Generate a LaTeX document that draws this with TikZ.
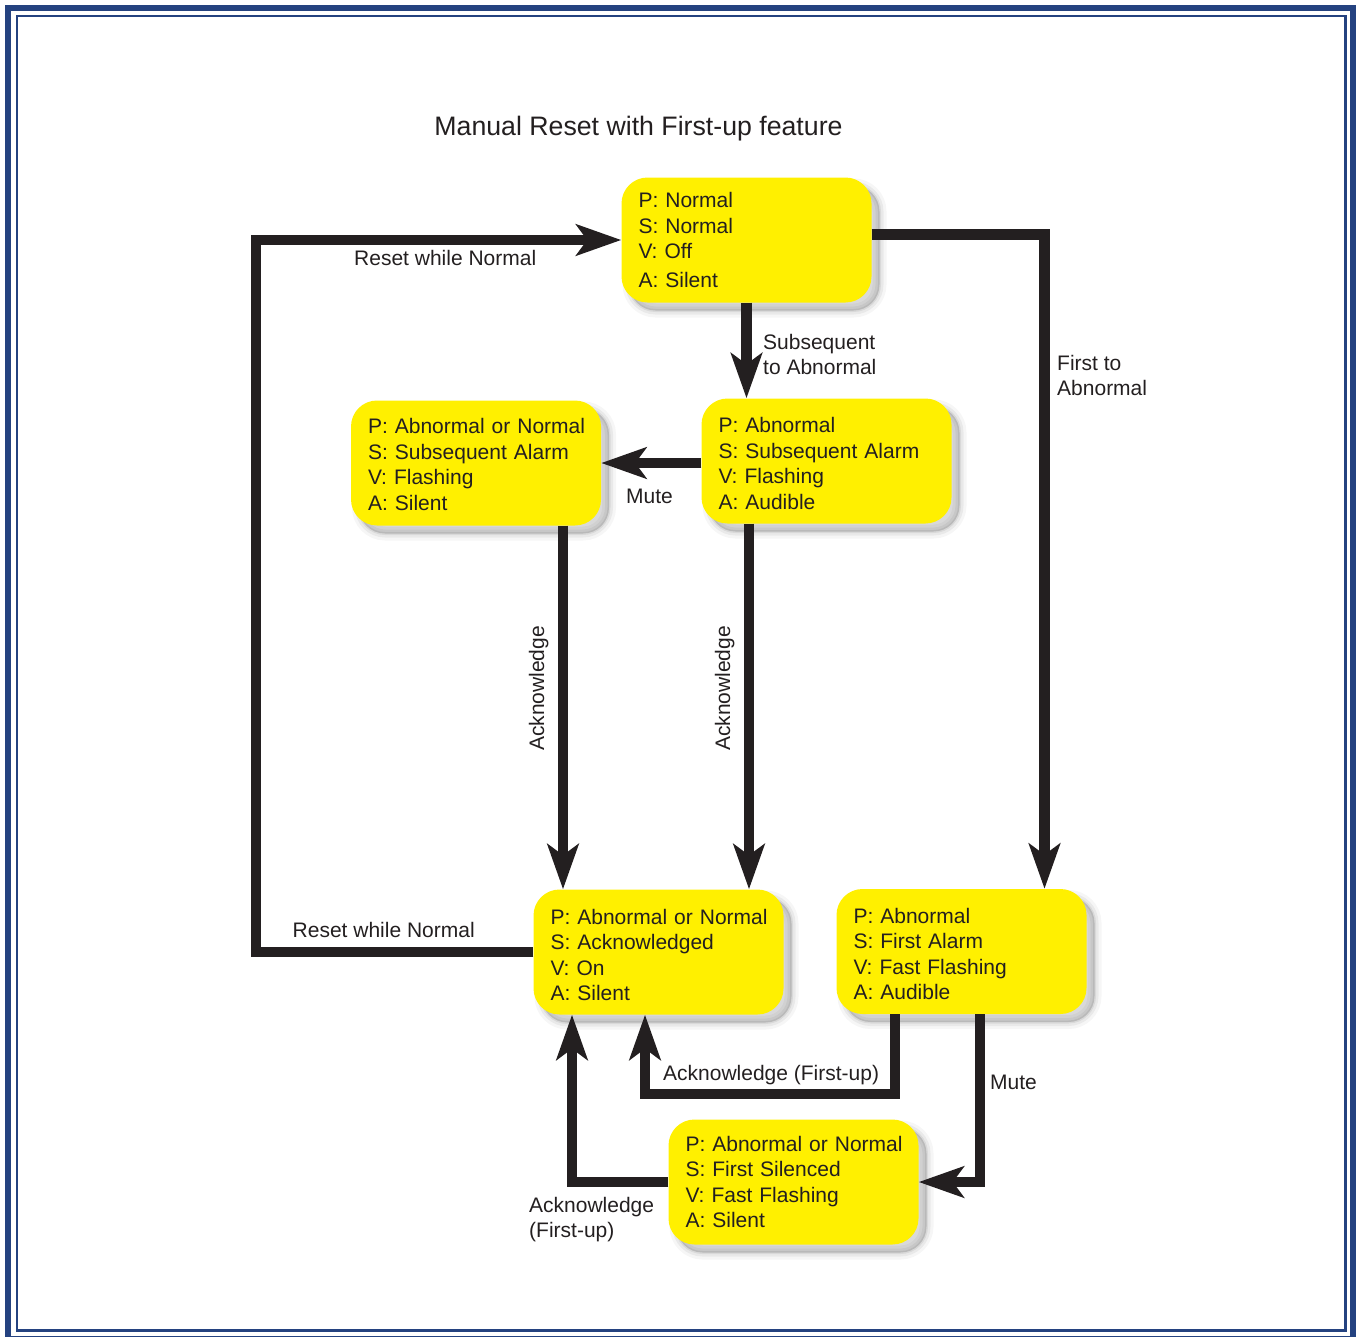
\documentclass[tikz,border=0pt]{standalone}
\usepackage{fontspec}
\setmainfont{Liberation Sans}
\usetikzlibrary{arrows.meta,shadows}
\definecolor{frameblue}{RGB}{36,66,128}
\definecolor{boxyellow}{RGB}{255,240,0}
\definecolor{ink}{RGB}{35,31,32}
\newcommand\boxtop[1]{\rule{0pt}{#1}}
\begin{document}
\begin{tikzpicture}[x=1pt,y=-1pt,
  every node/.style={text=ink, font=\fontsize{21}{25}\selectfont, inner sep=0pt},
  softshadow/.style={
    general shadow={fill=black, draw=black, line width=14pt, opacity=0.035, shadow xshift=8pt, shadow yshift=-8pt},
    general shadow={fill=black, draw=black, line width=8pt, opacity=0.05, shadow xshift=8pt, shadow yshift=-8pt},
    general shadow={fill=black, draw=black, line width=3pt, opacity=0.07, shadow xshift=8pt, shadow yshift=-8pt}},
  statebox/.style={softshadow, fill=boxyellow, rounded corners=26pt,
    minimum width=250pt, minimum height=125pt, text width=216pt, align=left,
    inner xsep=17pt, inner ysep=0pt, font=\fontsize{21}{25.5}\selectfont},
  conn/.style={draw=ink, line width=10.5pt, -{Stealth[length=45pt,width=31pt,inset=11pt]}},
  lbl/.style={anchor=base west},
  lblml/.style={anchor=north west, align=left},
]
\useasboundingbox (0,0) rectangle (1356,1336);
\clip (0,0) rectangle (1356,1336);
% frame
\draw[frameblue, line width=6pt] (8,8) rectangle (1353,1339);
\draw[frameblue, line width=2.5pt] (17,16) rectangle (1345.5,1330.5);
% title
\node[anchor=base, font=\fontsize{26.7}{30}\selectfont] (title) at (638.5,135.5) {Manual Reset with First-up feature};
% states
\node[statebox] (n1) at (746.5,240) {P: Normal\\S: Normal\\V: Off\\[3.5pt]A: Silent};
\node[statebox] (n2) at (826.5,461) {\boxtop{20pt}P: Abnormal\\S: Subsequent Alarm\\V: Flashing\\A: Audible};
\node[statebox] (n3) at (476,463) {\boxtop{18pt}\mbox{P: Abnormal or Normal}\\S: Subsequent Alarm\\V: Flashing\\A: Silent};
\node[statebox] (n4) at (658.5,952) {\boxtop{21pt}\mbox{P: Abnormal or Normal}\\S: Acknowledged\\V: On\\A: Silent};
\node[statebox] (n5) at (961.5,951.5) {\boxtop{20pt}P: Abnormal\\S: First Alarm\\V: Fast Flashing\\A: Audible};
\node[statebox] (n6) at (793.5,1182) {\mbox{P: Abnormal or Normal}\\S: First Silenced\\V: Fast Flashing\\A: Silent};
% corner coordinates
\coordinate (xl) at (256,0);
\coordinate (ackfu) at (645,1094);
% connectors
\draw[conn] (n4.west) -- (xl |- n4.west) -- (xl |- n1.west) -- (n1.west);
\draw[conn] (n1.south) -- (n1.south |- n2.north);
\draw[conn] (n1.east |- 0,234.5) -| (1044.5,0 |- n5.north);
\draw[conn] (n2.west |- 0,463) -- (n3.east |- 0,463);
\draw[conn] (563,0 |- n3.south) -- (563,0 |- n4.north);
\draw[conn] (749,0 |- n2.south) -- (749,0 |- n4.north);
\draw[conn] (895,0 |- n5.south) |- (ackfu) -- (ackfu |- n4.south);
\draw[conn] (980,0 |- n5.south) |- (n6.east);
\draw[conn] (n6.west) -| (572,0 |- n4.south);
% labels
\node[lbl] (l1) at (354,265) {Reset while Normal};
\node[lbl] (l2) at (292.5,937) {Reset while Normal};
\node[lblml] (l3) at (763,334) {Subsequent\\to Abnormal};
\node[lblml] (l4) at (1057,355) {First to\\Abnormal};
\node[lbl] (l5) at (626,503.5) {Mute};
\node[rotate=90, anchor=base] (l6) at (544,688.5) {Acknowledge};
\node[rotate=90, anchor=base] (l7) at (730,688.5) {Acknowledge};
\node[lbl] (l8) at (663,1080) {Acknowledge (First-up)};
\node[lbl] (l9) at (990,1089.5) {Mute};
\node[lblml] (l10) at (529,1196.7) {Acknowledge\\(First-up)};
\end{tikzpicture}
\end{document}
